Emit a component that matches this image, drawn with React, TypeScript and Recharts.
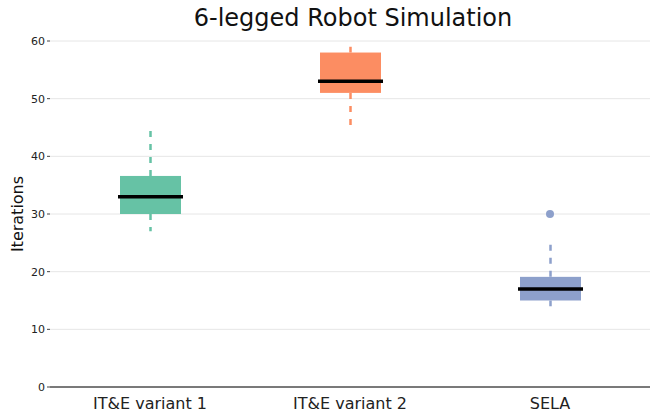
import {
  ComposedChart,
  Bar,
  Scatter,
  XAxis,
  YAxis,
  CartesianGrid,
} from "recharts";

const categories = ["IT&E variant 1", "IT&E variant 2", "SELA"];
const whiskerLow = [27, 45, 14];
const q1 = [30, 51, 15];
const median = [33, 53, 17];
const q3 = [36.6, 58, 19.1];
const whiskerHigh = [45, 59, 25];
const outliers = [null, null, 30];
const yTicks = [0, 10, 20, 30, 40, 50, 60];

const COLORS = ["#66c2a5", "#fc8d62", "#8da0cb"];

const data = categories.map((name, i) => ({
  name,
  range: [whiskerLow[i], whiskerHigh[i]],
  q1: q1[i],
  median: median[i],
  q3: q3[i],
  low: whiskerLow[i],
  high: whiskerHigh[i],
  outlier: outliers[i],
  color: COLORS[i],
}));

// draws the whole box from the bar rect of [low, high]
const BoxShape = (props: any) => {
  const { x, y, width, height, payload } = props;
  const { low, high, color } = payload;
  const perUnit = height / (high - low);
  const toY = (v: number) => y + (high - v) * perUnit;
  const cx = x + width / 2;
  const yq1 = toY(payload.q1);
  const yq3 = toY(payload.q3);
  const ymed = toY(payload.median);
  return (
    <g>
      {/* whiskers dashed outward from the box edges */}
      <line
        x1={cx}
        x2={cx}
        y1={yq3}
        y2={y}
        stroke={color}
        strokeWidth={2.5}
        strokeDasharray="6 7"
      />
      <line
        x1={cx}
        x2={cx}
        y1={yq1}
        y2={y + height}
        stroke={color}
        strokeWidth={2.5}
        strokeDasharray="6 7"
      />
      <rect x={x} y={yq3} width={width} height={yq1 - yq3} fill={color} />
      <line
        x1={x - 2}
        x2={x + width + 2}
        y1={ymed}
        y2={ymed}
        stroke="#000"
        strokeWidth={3.5}
      />
    </g>
  );
};

export default function App() {
  return (
    <div
      style={{
        position: "absolute",
        left: 0,
        top: 0,
        width: 650,
        height: 416,
        fontFamily: "DejaVu Sans",
        background: "#fff",
      }}
    >
      <div
        style={{
          position: "absolute",
          top: 4,
          left: 50,
          width: 606,
          textAlign: "center",
          fontSize: 24,
          lineHeight: "28px",
          color: "#111",
        }}
      >
        6-legged Robot Simulation
      </div>
      <div
        style={{
          position: "absolute",
          left: 17,
          top: 214,
          transform: "translate(-50%, -50%) rotate(-90deg)",
          fontSize: 16,
          color: "#111",
          whiteSpace: "nowrap",
        }}
      >
        Iterations
      </div>
      <ComposedChart
        width={650}
        height={416}
        data={data}
        margin={{ top: 41, right: 0, bottom: 0, left: 0 }}
      >
        <CartesianGrid vertical={false} stroke="#e6e6e6" />
        <XAxis
          dataKey="name"
          axisLine={{ stroke: "#000", strokeWidth: 1 }}
          tickLine={false}
          height={29}
          tick={{ fontSize: 16, fill: "#222" }}
          tickMargin={5}
        />
        <YAxis
          domain={[0, 60]}
          ticks={yTicks}
          width={50}
          axisLine={false}
          tickLine={{ stroke: "#444" }}
          tickSize={3}
          tick={{ fontSize: 11, fill: "#222" }}
        />
        <Bar
          dataKey="range"
          barSize={61}
          shape={<BoxShape />}
          isAnimationActive={false}
        />
        <Scatter
          dataKey="outlier"
          fill={COLORS[2]}
          shape={(p: any) =>
            p.payload.outlier == null ? <g /> : (
              <circle cx={p.cx} cy={p.cy} r={4} fill={COLORS[2]} />
            )
          }
          isAnimationActive={false}
        />
      </ComposedChart>
    </div>
  );
}
